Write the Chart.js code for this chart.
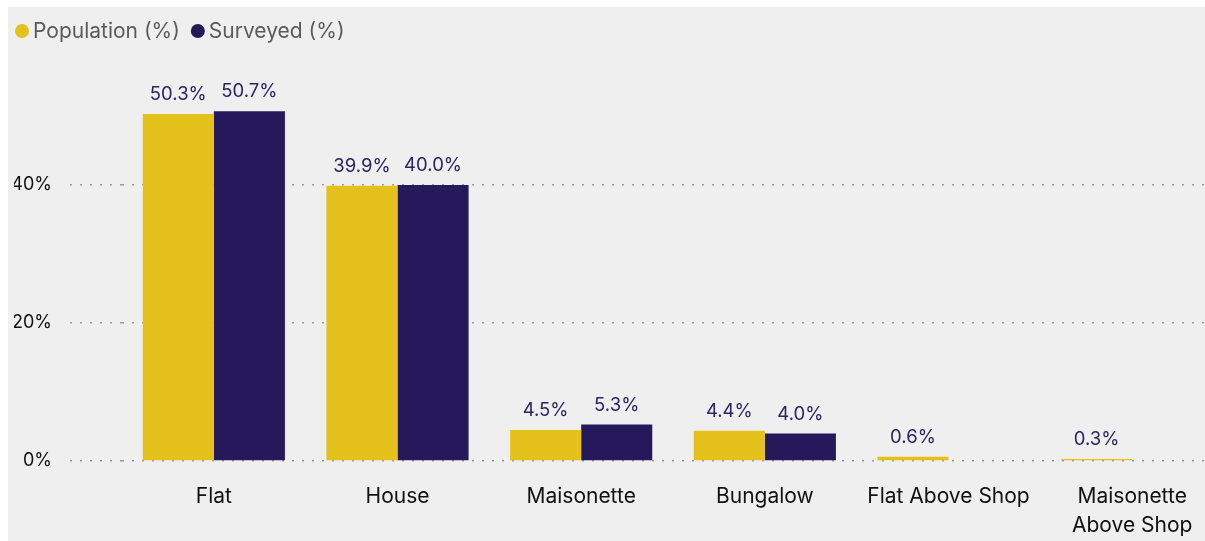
<!DOCTYPE html>
<html>
<head>
<meta charset="utf-8">
<script src="https://cdn.jsdelivr.net/npm/chart.js@4.4.1/dist/chart.umd.min.js"></script>
<style>
  html, body { margin: 0; padding: 0; background: #fff; overflow: hidden; }
  #wrap { position: absolute; left: 8px; top: 7px; width: 1222px; height: 534px; background: #efefef; }
</style>
</head>
<body>
<div id="wrap"><canvas id="dwelling-types"></canvas></div>
<script>
const dwellingTypes = ['Flat', 'House', 'Maisonette', 'Bungalow', 'Flat Above Shop', ['Maisonette', 'Above Shop']];
const populationPct = [50.3, 39.9, 4.5, 4.4, 0.6, 0.3];
const surveyedPct = [50.7, 40.0, 5.3, 4.0, null, null];
const yTickValues = [0, 20, 40];

const FONT = 'Inter';
const YELLOW = '#e5c21b';
const NAVY = '#25195c';

// value text above each bar
const barValueLabels = {
    id: 'barValueLabels',
    afterDatasetsDraw(chart) {
        const ctx = chart.ctx;
        ctx.save();
        ctx.font = '18.5px ' + FONT;
        ctx.fillStyle = '#2d2464';
        ctx.textAlign = 'center';
        ctx.textBaseline = 'bottom';
        chart.data.datasets.forEach((ds, i) => {
            chart.getDatasetMeta(i).data.forEach((bar, j) => {
                const v = ds.data[j];
                if (v == null) return;
                ctx.fillText(v.toFixed(1) + '%', bar.x, bar.y - 10);
            });
        });
        ctx.restore();
    },
};

// small dot legend in the top left corner
const dotLegend = {
    id: 'dotLegend',
    afterDraw(chart) {
        const ctx = chart.ctx;
        ctx.save();
        ctx.font = '21px ' + FONT;
        ctx.textBaseline = 'middle';
        let x = 14;
        const y = 24;
        chart.data.datasets.forEach(ds => {
            ctx.fillStyle = ds.backgroundColor;
            ctx.beginPath();
            ctx.arc(x, y, 7, 0, Math.PI * 2);
            ctx.fill();
            ctx.fillStyle = '#5b5b5b';
            ctx.fillText(ds.label, x + 11, y + 1);
            x += 11 + ctx.measureText(ds.label).width + 18;
        });
        ctx.restore();
    },
};

new Chart(document.getElementById('dwelling-types'), {
    type: 'bar',
    data: {
        labels: dwellingTypes,
        datasets: [
            {
                label: 'Population (%)',
                data: populationPct,
                backgroundColor: YELLOW,
                categoryPercentage: 0.774,
                barPercentage: 1,
            },
            {
                label: 'Surveyed (%)',
                data: surveyedPct,
                backgroundColor: NAVY,
                categoryPercentage: 0.774,
                barPercentage: 1,
            },
        ],
    },
    options: {
        responsive: true,
        maintainAspectRatio: false,
        animation: false,
        layout: {
            padding: { top: 40, left: 6, right: 6, bottom: 0 },
        },
        plugins: {
            legend: { display: false },
            tooltip: { enabled: false },
        },
        scales: {
            x: {
                grid: { display: false, drawTicks: false },
                border: { display: false },
                afterFit(scale) {
                    scale.height = 80;
                },
                ticks: {
                    color: '#111',
                    padding: 21,
                    maxRotation: 0,
                    autoSkip: false,
                    font: { family: FONT, size: 21, lineHeight: 1.4 },
                },
            },
            y: {
                min: 0,
                max: 60,
                afterBuildTicks(scale) {
                    scale.ticks = yTickValues.map(v => ({ value: v }));
                },
                afterFit(scale) {
                    scale.width = 108;
                },
                grid: {
                    color: '#9a9a9a',
                    lineWidth: 1.5,
                    tickLength: 52,
                    tickColor: '#9a9a9a',
                    tickBorderDash: [2, 8],
                },
                border: { display: false, dash: [2, 8] },
                ticks: {
                    color: '#111',
                    padding: 18,
                    font: { family: FONT, size: 18 },
                    callback: v => v + '%',
                },
            },
        },
    },
    plugins: [barValueLabels, dotLegend],
});
</script>
</body>
</html>
